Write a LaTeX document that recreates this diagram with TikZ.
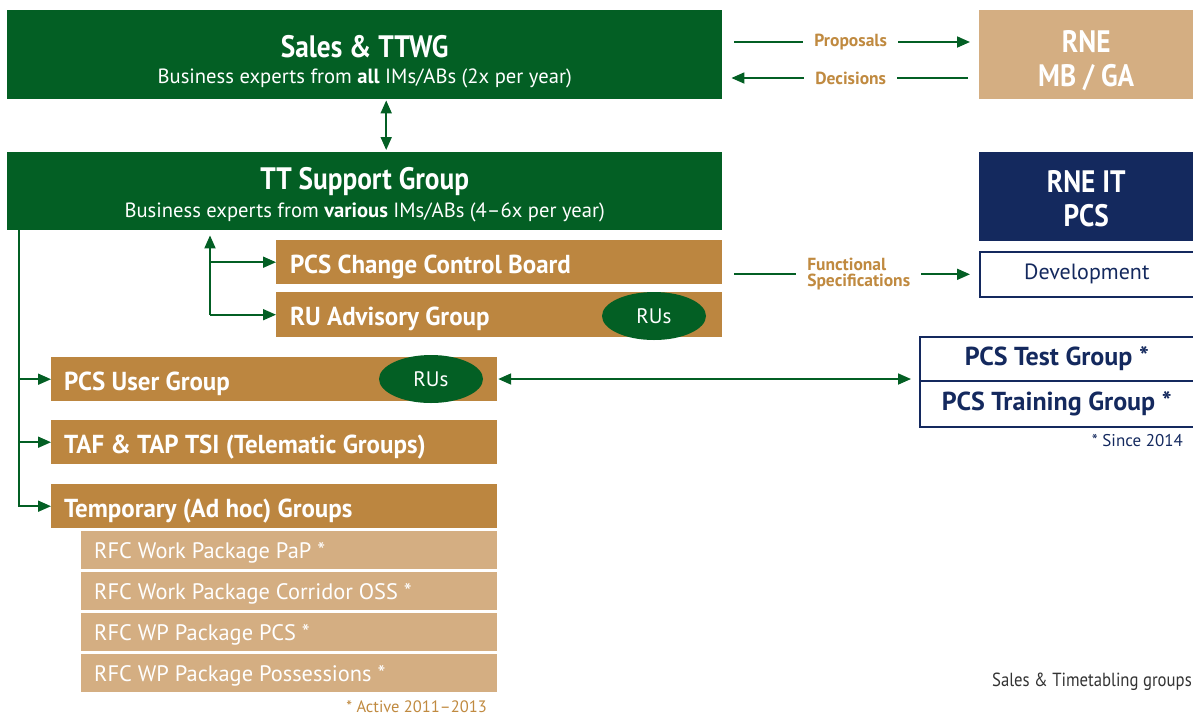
\documentclass[tikz,border=0pt]{standalone}
\usepackage{fontspec}
\setmainfont{PT Sans}
\newfontfamily\condsf[FakeStretch=0.88]{PT Sans}
\newfontfamily\groupsf[FakeStretch=0.96]{PT Sans}
\usepackage{xcolor}
\usetikzlibrary{
    arrows.meta,
    positioning,
    calc,
    shapes.geometric
}
\definecolor{ttgreen}{HTML}{035F24}
\definecolor{tandark}{HTML}{BC8640}
\definecolor{tanlight}{HTML}{D4AE82}
\definecolor{rnenavy}{HTML}{14295E}
\definecolor{lbltan}{HTML}{C08A40}
\definecolor{notegray}{HTML}{333333}
\tikzset{
    % Filled group box
    groupbox/.style={
        rectangle,
        inner sep=0pt,
        anchor=north west,
        fill=#1
    },
    % Outlined RNE box
    rnebox/.style={
        rectangle,
        inner sep=0pt,
        anchor=north west,
        draw=rnenavy,
        line width=1.6pt,
        fill=white,
        text=rnenavy
    },
    % Big titles
    box title/.style={
        anchor=base,
        inner sep=0pt,
        font=\condsf\bfseries\fontsize{31}{34}\selectfont,
        text=white
    },
    box sub/.style={
        anchor=base,
        inner sep=0pt,
        font=\fontsize{20.6}{24}\selectfont,
        text=white
    },
    % Group names
    group text/.style={
        anchor=base west,
        inner sep=0pt,
        font=\groupsf\bfseries\fontsize{26}{30}\selectfont,
        text=white
    },
    rfc text/.style={
        anchor=base west,
        inner sep=0pt,
        font=\fontsize{22.4}{26}\selectfont,
        text=white
    },
    % RU oval
    ru oval/.style={
        ellipse,
        fill=ttgreen,
        minimum width=104pt,
        minimum height=48pt,
        inner sep=0pt,
        text=white,
        font=\fontsize{21}{24}\selectfont
    },
    % Arrow styles
    link/.style={
        -{Triangle[length=13pt, width=11pt]},
        line width=1.8pt,
        color=ttgreen
    },
    link both/.style={
        {Triangle[length=13pt, width=11pt]}-{Triangle[length=13pt, width=11pt]},
        line width=1.8pt,
        color=ttgreen
    },
    % Label style
    flow label/.style={
        font=\bfseries\fontsize{17.5}{19}\selectfont,
        text=lbltan,
        fill=white,
        inner xsep=11pt,
        inner ysep=1pt,
        align=left
    },
    note text/.style={
        anchor=base east,
        inner sep=0pt,
        font=\fontsize{17}{19}\selectfont
    }
}

\begin{document}
\begin{tikzpicture}[x=1pt, y=-1pt]
    \useasboundingbox (0,0) rectangle (1193,716);

    % Top level groups
    \node[groupbox=ttgreen, minimum width=715pt, minimum height=89pt] (ttwg) at (7,10) {};
    \node[box title] (ttwg-t) at ([yshift=-47pt]ttwg.north) {Sales \& TTWG};
    \node[box sub] (ttwg-s) at ([yshift=-73pt]ttwg.north) {Business experts from \textbf{all} IMs/ABs (2x per year)};

    \node[groupbox=ttgreen, minimum width=715pt, minimum height=78pt] (tts) at (7,152) {};
    \node[box title] (tts-t) at ([yshift=-37pt]tts.north) {TT Support Group};
    \node[box sub] (tts-s) at ([yshift=-65pt]tts.north) {Business experts from \textbf{various} IMs/ABs (4–6x per year)};

    % RNE side
    \node[groupbox=tanlight, minimum width=214pt, minimum height=89pt] (rne) at (979,10) {};
    \node[box title] (rne-t) at ([yshift=-42pt]rne.north) {RNE};
    \node[box title] (rne-s) at ([yshift=-76pt]rne.north) {MB / GA};

    \node[groupbox=rnenavy, minimum width=214pt, minimum height=89pt] (rneit) at (979,152) {};
    \node[box title] (rneit-t) at ([yshift=-40pt]rneit.north) {RNE IT};
    \node[box title] (rneit-s) at ([yshift=-74pt]rneit.north) {PCS};

    \node[rnebox, minimum width=214pt, minimum height=45pt, font=\fontsize{22}{26}\selectfont] (dev) at (979,251) {Development};

    \node[rnebox, minimum width=274pt, minimum height=44pt, font=\bfseries\fontsize{26}{30}\selectfont] (test) at (919,336) {PCS Test Group *};
    \node[rnebox, minimum width=274pt, minimum height=46pt, font=\bfseries\fontsize{26}{30}\selectfont] (train) at (919,380) {PCS Training Group *};
    \node[note text, text=rnenavy] (since) at (1183,446) {* Since 2014};

    % Sub groups of TT Support Group
    \node[groupbox=tandark, minimum width=446pt, minimum height=44pt] (ccb) at (276,240) {};
    \node[group text] (ccb-t) at ([xshift=14pt, yshift=-11pt]ccb.west) {PCS Change Control Board};
    \node[groupbox=tandark, minimum width=446pt, minimum height=45pt] (rua) at (276,292) {};
    \node[group text] (rua-t) at ([xshift=14pt, yshift=-11pt]rua.west) {RU Advisory Group};
    \node[ru oval] (rua-ru) at (654,316) {RUs};

    \node[groupbox=tandark, minimum width=446pt, minimum height=44pt] (pug) at (51,357) {};
    \node[group text] (pug-t) at ([xshift=13pt, yshift=-11pt]pug.west) {PCS User Group};
    \node[ru oval] (pug-ru) at (431,379) {RUs};

    \node[groupbox=tandark, minimum width=446pt, minimum height=44pt] (taf) at (51,420) {};
    \node[group text] (taf-t) at ([xshift=13pt, yshift=-11pt]taf.west) {TAF \& TAP TSI (Telematic Groups)};

    \node[groupbox=tandark, minimum width=446pt, minimum height=44pt] (tmp) at (51,484) {};
    \node[group text] (tmp-t) at ([xshift=13pt, yshift=-11pt]tmp.west) {Temporary (Ad hoc) Groups};

    % Work packages
    \node[groupbox=tanlight, minimum width=416pt, minimum height=38pt] (wp1) at (81,531) {};
    \node[rfc text] (wp1-t) at ([xshift=13pt, yshift=-8pt]wp1.west) {RFC Work Package PaP *};
    \node[groupbox=tanlight, minimum width=416pt, minimum height=38pt] (wp2) at (81,572) {};
    \node[rfc text] (wp2-t) at ([xshift=13pt, yshift=-8pt]wp2.west) {RFC Work Package Corridor OSS *};
    \node[groupbox=tanlight, minimum width=416pt, minimum height=38pt] (wp3) at (81,613) {};
    \node[rfc text] (wp3-t) at ([xshift=13pt, yshift=-8pt]wp3.west) {RFC WP Package PCS *};
    \node[groupbox=tanlight, minimum width=416pt, minimum height=38pt] (wp4) at (81,654) {};
    \node[rfc text] (wp4-t) at ([xshift=13pt, yshift=-8pt]wp4.west) {RFC WP Package Possessions *};
    \node[note text, text=lbltan, font=\fontsize{16.5}{19}\selectfont] (active) at (487,712) {* Active 2011–2013};

    \node[note text, text=notegray, font=\condsf\fontsize{19}{22}\selectfont] (legend) at (1192,686) {Sales \& Timetabling groups};

    % Connectors
    \draw[link, shorten <=12pt, shorten >=9pt] ([yshift=-32pt]ttwg.north east) -- node[flow label] {Proposals} ([yshift=-32pt]rne.north west);
    \draw[link, shorten <=11pt, shorten >=9pt] ([yshift=-68pt]rne.north west) -- node[flow label] {Decisions} ([yshift=-68pt]ttwg.north east);
    \draw[link both, shorten <=1pt, shorten >=2pt] ([xshift=21.5pt]ttwg.south) -- ([xshift=21.5pt]tts.north);
    \draw[link, shorten <=12pt, shorten >=9pt] (ccb.east |- dev.west) -- node[flow label, xshift=8pt] {Functional\\[-3pt]Specifications} (dev.west);

    \coordinate (tap) at ([xshift=203pt]tts.south west);
    \draw[link, shorten >=5pt] (rua.west -| tap) -- (tap);
    \draw[link] (ccb.west -| tap) -- (ccb.west);
    \draw[link] (rua.west -| tap) -- (rua.west);

    \coordinate (trunk) at ([xshift=12pt]tts.south west);
    \draw[link] (trunk) |- (tmp.west);
    \draw[link] (pug.west -| trunk) -- (pug.west);
    \draw[link] (taf.west -| trunk) -- (taf.west);

    \draw[link both, shorten <=15pt, shorten >=8pt] (pug-ru.east) -- (pug-ru.east -| test.west);
\end{tikzpicture}
\end{document}
